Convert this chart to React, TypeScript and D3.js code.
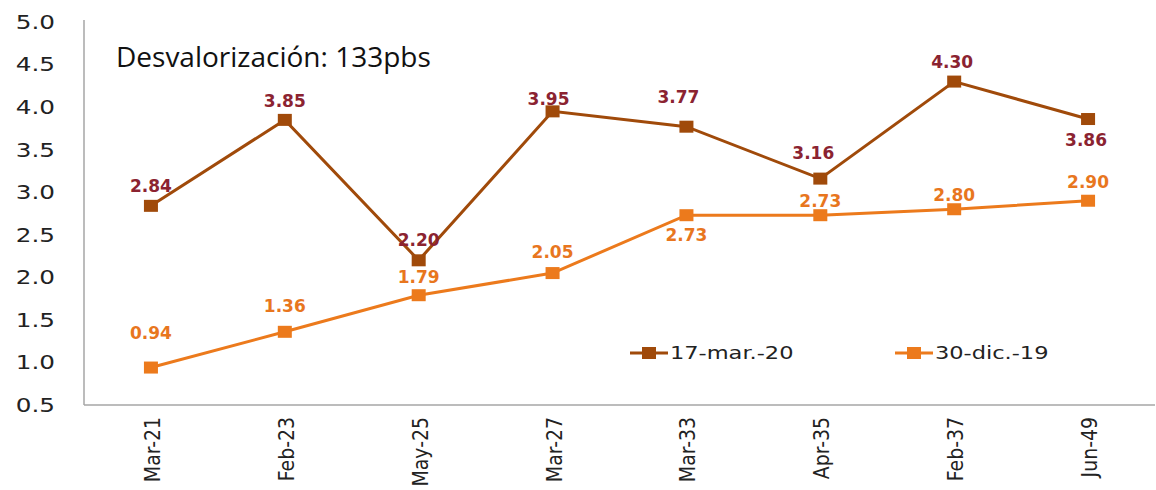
import React, { useEffect, useRef } from 'react';
import * as d3 from 'd3';

// data
const categories = ['Mar-21', 'Feb-23', 'May-25', 'Mar-27', 'Mar-33', 'Apr-35', 'Feb-37', 'Jun-49'];
const marValues = [2.84, 3.85, 2.2, 3.95, 3.77, 3.16, 4.3, 3.86];
const dicValues = [0.94, 1.36, 1.79, 2.05, 2.73, 2.73, 2.8, 2.9];
const yTicks = [0.5, 1.0, 1.5, 2.0, 2.5, 3.0, 3.5, 4.0, 4.5, 5.0];
const seriesNames = ['17-mar.-20', '30-dic.-19'];
const title = 'Desvalorización: 133pbs';

// label placement: offset of the label centre from the point
const marLabelDy = [-20, -19, -20, -12, -30, -26, -20, 21];
const marLabelDx = [0, 0, 0, -4, -8, -7, -2, -2];
const dicLabelDy = [-35, -26, -18, -21, 20, -14, -14, -19];
const dicLabelDx = [0, 0, 0, 0, 0, 0, 0, 0];

const W = 1156, H = 490;
const margin = { top: 22, right: 1, bottom: 85, left: 84 };
const stretch = 1.3; // text in the picture is stretched sideways

export default function App() {
    const ref = useRef<SVGSVGElement>(null);

    useEffect(() => {
        const svg = d3.select(ref.current);
        svg.selectAll('*').remove();

        const width = W - margin.left - margin.right;
        const height = H - margin.top - margin.bottom;

        const x = d3.scaleBand().domain(categories).range([margin.left, margin.left + width]);
        const y = d3.scaleLinear().domain([0.5, 5.0]).range([margin.top + height, margin.top]);
        const cx = (c: string) => (x(c) as number) + x.bandwidth() / 2;

        // axes lines
        svg.append('line')
            .attr('x1', margin.left).attr('x2', margin.left)
            .attr('y1', y(5.0) - 2).attr('y2', y(0.5))
            .attr('stroke', '#a6a6a6').attr('stroke-width', 1.5);
        svg.append('line')
            .attr('x1', margin.left).attr('x2', margin.left + width)
            .attr('y1', y(0.5)).attr('y2', y(0.5))
            .attr('stroke', '#a6a6a6').attr('stroke-width', 1.5);

        // y tick labels
        svg.append('g').selectAll('text')
            .data(yTicks)
            .enter().append('text')
            .attr('transform', d => 'translate(55,' + y(d) + ') scale(' + stretch + ',1)')
            .attr('dy', '0.36em')
            .attr('text-anchor', 'end')
            .style('font-family', "'DejaVu Sans', Verdana, sans-serif")
            .style('font-size', '19px')
            .style('fill', '#222')
            .text(d => d.toFixed(1));

        // x tick labels, rotated
        svg.append('g').selectAll('text')
            .data(categories)
            .enter().append('text')
            .attr('transform', d => 'translate(' + (cx(d) + 9) + ',' + (y(0.5) + 12) + ') rotate(-90)')
            .attr('text-anchor', 'end')
            .style('font-family', "'Liberation Sans Narrow', 'DejaVu Sans Condensed', 'Liberation Sans', sans-serif")
            .style('font-size', '21px')
            .style('fill', '#222')
            .text(d => d);

        // title
        svg.append('text')
            .attr('x', 116).attr('y', 67)
            .style('font-family', "'Open Sans', 'Noto Sans', sans-serif")
            .style('font-size', '28px')
            .style('fill', '#111')
            .text(title);

        const series = [
            { name: seriesNames[0], values: marValues, dy: marLabelDy, dx: marLabelDx, color: '#a04a0a', labelColor: '#8b2331' },
            { name: seriesNames[1], values: dicValues, dy: dicLabelDy, dx: dicLabelDx, color: '#ec7a1c', labelColor: '#e8761e' },
        ];

        const line = d3.line<number>()
            .x((d, i) => cx(categories[i]))
            .y(d => y(d));

        series.forEach(s => {
            const g = svg.append('g');
            g.append('path')
                .datum(s.values)
                .attr('d', line)
                .attr('fill', 'none')
                .attr('stroke', s.color)
                .attr('stroke-width', 3);
            g.selectAll('rect')
                .data(s.values)
                .enter().append('rect')
                .attr('x', (d, i) => cx(categories[i]) - 7)
                .attr('y', d => y(d) - 6)
                .attr('width', 14).attr('height', 12)
                .attr('fill', s.color);
            g.selectAll('text')
                .data(s.values)
                .enter().append('text')
                .attr('x', (d, i) => cx(categories[i]) + s.dx[i])
                .attr('y', (d, i) => y(d) + s.dy[i])
                .attr('dy', '0.36em')
                .attr('text-anchor', 'middle')
                .style('font-family', "'DejaVu Sans', Verdana, sans-serif")
                .style('font-size', '17px')
                .style('font-weight', 'bold')
                .style('fill', s.labelColor)
                .text(d => d.toFixed(2));
        });

        // legend
        const legendX = [630, 895];
        const legendY = 353;
        series.forEach((s, i) => {
            const g = svg.append('g').attr('transform', 'translate(' + legendX[i] + ',' + legendY + ')');
            g.append('line').attr('x1', 0).attr('x2', 38).attr('y1', 0).attr('y2', 0)
                .attr('stroke', s.color).attr('stroke-width', 3);
            g.append('rect').attr('x', 12).attr('y', -6).attr('width', 14).attr('height', 12)
                .attr('fill', s.color);
            g.append('text')
                .attr('transform', 'translate(40,0) scale(1.25,1)')
                .attr('dy', '0.36em')
                .style('font-family', "'DejaVu Sans', Verdana, sans-serif")
                .style('font-size', '18px')
                .style('fill', '#222')
                .text(s.name);
        });
    }, []);

    return (
        <div style={{ position: 'absolute', left: 0, top: 0 }}>
            <svg ref={ref} width={W} height={H} style={{ display: 'block', background: '#fff' }} />
        </div>
    );
}
